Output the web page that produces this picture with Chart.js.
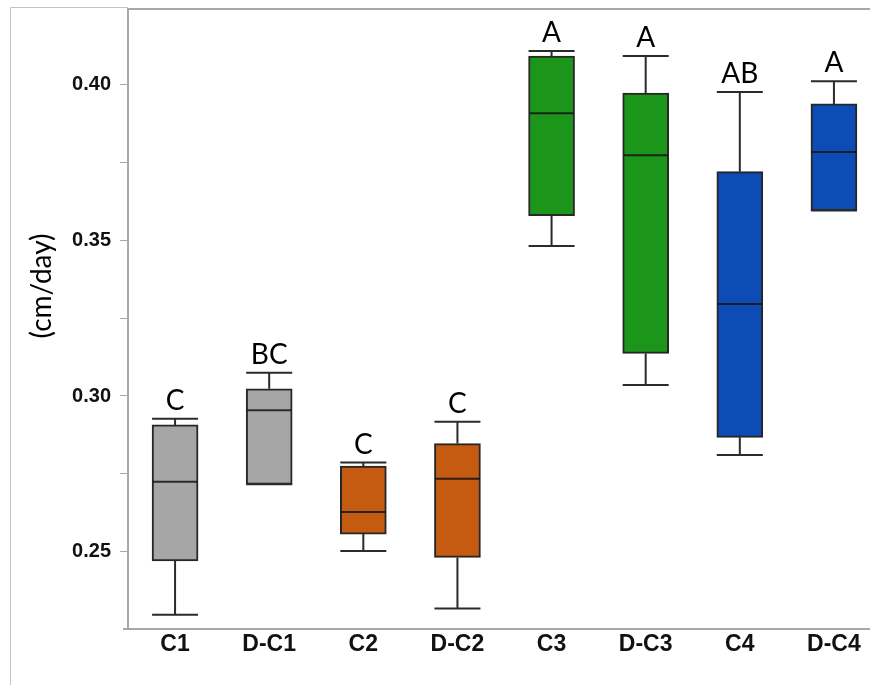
<!DOCTYPE html>
<html>
<head>
<meta charset="utf-8">
<script src="https://cdn.jsdelivr.net/npm/chart.js@4.4.1/dist/chart.umd.min.js"></script>
<style>
  html, body { margin: 0; padding: 0; background: #fff; overflow: hidden; }
  #wrap { position: absolute; left: 0; top: 0; width: 870px; height: 685px; overflow: hidden; }
  canvas { display: block; }
</style>
</head>
<body>
<div id="wrap"><canvas id="c" width="884" height="685"></canvas></div>
<script>
// ---- data ----
const categories  = ['C1', 'D-C1', 'C2', 'D-C2', 'C3', 'D-C3', 'C4', 'D-C4'];
const whiskerLow  = [0.2297, 0.2716, 0.2502, 0.2317, 0.3482, 0.3035, 0.2810, 0.3596];
const q1Values    = [0.2470, 0.2716, 0.2556, 0.2481, 0.3580, 0.3137, 0.2867, 0.3596];
const medianVals  = [0.2724, 0.2954, 0.2627, 0.2734, 0.3909, 0.3774, 0.3296, 0.3784];
const q3Values    = [0.2907, 0.3023, 0.2775, 0.2847, 0.4093, 0.3974, 0.3721, 0.3939];
const whiskerHigh = [0.2927, 0.3075, 0.2786, 0.2917, 0.4109, 0.4093, 0.3977, 0.4012];
const groupLetters = ['C', 'BC', 'C', 'C', 'A', 'A', 'AB', 'A'];
const yTickValues = [0.25, 0.275, 0.30, 0.325, 0.35, 0.375, 0.40];
const yMin = 0.2251, yMax = 0.4244;
const yTitle = '(cm/day)';

// ---- styles ----
const boxColors = ['#a6a6a6', '#a6a6a6', '#c55a11', '#c55a11', '#1b961b', '#1b961b', '#0c4cb4', '#0c4cb4'];
const BOX_W = 46;

const boxPlugin = {
  id: 'boxExtras',
  beforeDraw(chart) {
    const ctx = chart.ctx, a = chart.chartArea;
    ctx.save();
    // outer frame
    ctx.strokeStyle = '#c4c4c4';
    ctx.lineWidth = 1;
    ctx.beginPath();
    ctx.moveTo(10.5, 685); ctx.lineTo(10.5, 7.5); ctx.lineTo(a.left, 7.5);
    ctx.stroke();
    // top border of plot
    ctx.strokeStyle = '#a8a8a8';
    ctx.lineWidth = 2;
    ctx.beginPath();
    ctx.moveTo(a.left - 1, a.top); ctx.lineTo(chart.width, a.top);
    ctx.stroke();
    // bottom axis stub to the left
    ctx.beginPath();
    ctx.moveTo(a.left - 5, a.bottom); ctx.lineTo(a.left, a.bottom);
    ctx.stroke();
    // y title
    ctx.translate(42, 286);
    ctx.rotate(-Math.PI / 2);
    ctx.font = '28px Lato, "Open Sans", sans-serif';
    ctx.fillStyle = '#000';
    ctx.textAlign = 'center';
    ctx.textBaseline = 'middle';
    ctx.fillText(yTitle, 0, 0);
    ctx.restore();
  },
  afterDatasetsDraw(chart) {
    const ctx = chart.ctx;
    const x = chart.scales.x, y = chart.scales.y;
    ctx.save();
    for (let i = 0; i < categories.length; i++) {
      const cx = x.getPixelForValue(i);
      const h = BOX_W / 2;
      const pLo = y.getPixelForValue(whiskerLow[i]);
      const pQ1 = y.getPixelForValue(q1Values[i]);
      const pMed = y.getPixelForValue(medianVals[i]);
      const pQ3 = y.getPixelForValue(q3Values[i]);
      const pHi = y.getPixelForValue(whiskerHigh[i]);
      ctx.strokeStyle = '#2b2b2b';
      ctx.lineWidth = 2;
      ctx.beginPath();
      ctx.moveTo(cx, pQ3); ctx.lineTo(cx, pHi);
      ctx.moveTo(cx - h, pHi); ctx.lineTo(cx + h, pHi);
      ctx.moveTo(cx, pQ1); ctx.lineTo(cx, pLo);
      ctx.moveTo(cx - h, pLo); ctx.lineTo(cx + h, pLo);
      ctx.stroke();
      // median
      ctx.strokeStyle = 'rgba(20,20,20,0.85)';
      ctx.beginPath();
      ctx.moveTo(cx - h + 1, pMed); ctx.lineTo(cx + h - 1, pMed);
      ctx.stroke();
      // group letter
      ctx.fillStyle = '#000';
      ctx.font = '28px Lato, "Open Sans", sans-serif';
      ctx.textAlign = 'center';
      ctx.textBaseline = 'alphabetic';
      ctx.fillText(groupLetters[i], cx, pHi - 9);
    }
    ctx.restore();
  }
};

new Chart(document.getElementById('c'), {
  type: 'bar',
  data: {
    labels: categories,
    datasets: [{
      data: categories.map((_, i) => [q1Values[i], q3Values[i]]),
      backgroundColor: boxColors,
      borderColor: '#262626',
      borderWidth: 2,
      borderSkipped: false,
      barThickness: BOX_W
    }]
  },
  options: {
    responsive: false,
    animation: false,
    layout: { padding: { top: 9, left: 0, right: 3, bottom: 0 } },
    plugins: { legend: { display: false }, tooltip: { enabled: false } },
    scales: {
      x: {
        grid: { display: false, drawTicks: false },
        border: { display: true, color: '#a8a8a8', width: 2 },
        ticks: {
          color: '#111',
          padding: 2,
          font: { family: '"Liberation Sans", Arial, sans-serif', size: 23, weight: 'bold' }
        },
        afterFit(s) { s.height = 56; s.paddingLeft = 0; s.paddingRight = 0; }
      },
      y: {
        min: yMin,
        max: yMax,
        afterBuildTicks(s) { s.ticks = yTickValues.map(v => ({ value: v })); },
        grid: { drawOnChartArea: false, drawTicks: true, tickLength: 8, color: '#a8a8a8', tickColor: '#a8a8a8' },
        border: { display: true, color: '#a8a8a8', width: 2 },
        ticks: {
          color: '#111',
          padding: 9,
          font: { family: '"Liberation Sans", Arial, sans-serif', size: 20, weight: 'bold' },
          callback(v) { return Math.round(v * 1000) % 50 === 0 ? v.toFixed(2) : ''; }
        },
        afterFit(s) { s.width = 128; s.paddingTop = 0; s.paddingBottom = 0; }
      }
    }
  },
  plugins: [boxPlugin]
});
</script>
</body>
</html>
